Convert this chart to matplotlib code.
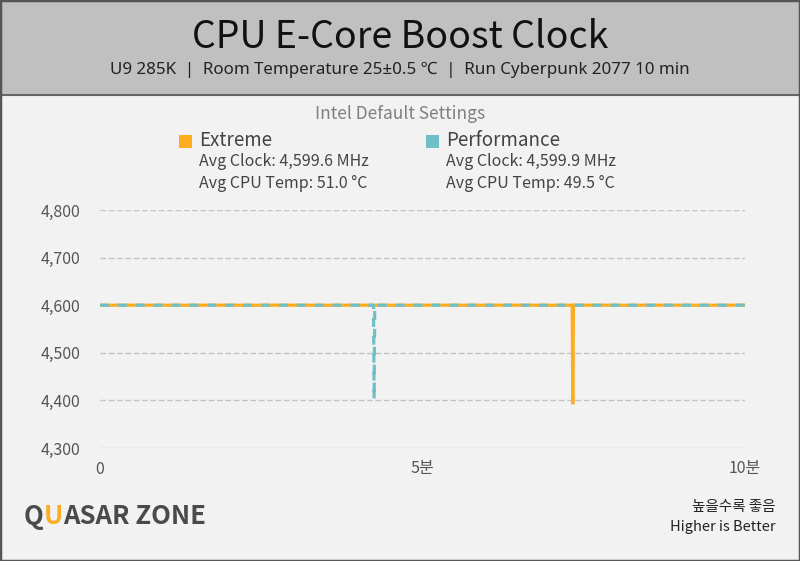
import matplotlib.pyplot as plt
from matplotlib.patches import Rectangle
from matplotlib.lines import Line2D
from matplotlib.offsetbox import TextArea, HPacker, AnchoredOffsetbox

plt.rcParams['font.family'] = ['Noto Sans CJK KR', 'DejaVu Sans']

# minutes / MHz
ext_t = [0, 7.32, 7.33, 7.34, 10]
ext_mhz = [4600, 4600, 4392, 4600, 4600]
perf_t = [0, 4.24, 4.25, 4.26, 10]
perf_mhz = [4600, 4600, 4402, 4600, 4600]

yticks = [4300, 4400, 4500, 4600, 4700, 4800]
xticks = [0, 5, 10]
xlabels = ['0', '5분', '10분']

c_ext = '#ffad1f'
c_perf = '#6fc0c6'

fig = plt.figure(figsize=(8, 5.61), dpi=100)
fig.set_facecolor('#f2f2f2')

# header band + borders
hb = 95 / 561
fig.patches.append(Rectangle((0, 1 - hb), 1, hb, transform=fig.transFigure,
                             facecolor='#c0c0c0', edgecolor='none', zorder=0))
fig.lines.append(Line2D([0, 1], [1 - hb, 1 - hb], transform=fig.transFigure,
                        color='#666666', lw=1.5))
fig.patches.append(Rectangle((0, 0), 1, 1, transform=fig.transFigure,
                             facecolor='none', edgecolor='#555555', lw=2.5, zorder=5))

fig.text(0.5, 1 - 37 / 561, 'CPU E-Core Boost Clock', ha='center', va='center',
         fontsize=27, color='#111111')
fig.text(0.5, 1 - 70 / 561,
         'U9 285K  |  Room Temperature 25±0.5 ℃  |  Run Cyberpunk 2077 10 min',
         ha='center', va='center', fontsize=12.2, color='#222222',
         family=['Noto Sans', 'Noto Sans CJK KR'])

fig.text(0.5, 1 - 114 / 561, 'Intel Default Settings', ha='center', va='center',
         fontsize=12.5, color='#808080')

# legend block
for sx, tx, name, clk, tmp, col in [(179, 199, 'Extreme', '4,599.6', '51.0', c_ext),
                                    (426, 446, 'Performance', '4,599.9', '49.5', c_perf)]:
    fig.patches.append(Rectangle((sx / 800, 1 - 148 / 561), 13 / 800, 13 / 561,
                                 transform=fig.transFigure, facecolor=col, edgecolor='none'))
    fig.text(tx / 800, 1 - 141 / 561, name, ha='left', va='center', fontsize=13.5, color='#444444')
    fig.text(tx / 800, 1 - 162 / 561, 'Avg Clock: %s MHz' % clk, ha='left', va='center',
             fontsize=11.5, color='#444444')
    fig.text(tx / 800, 1 - 183 / 561, 'Avg CPU Temp: %s °C' % tmp, ha='left', va='center',
             fontsize=11.5, color='#444444')

ax = fig.add_axes([100 / 800, 1 - 448 / 561, 645 / 800, 238 / 561])
ax.set_facecolor('#f2f2f2')
ax.set_xlim(0, 10)
ax.set_ylim(4300, 4800)
ax.set_yticks(yticks)
ax.set_yticklabels(['{:,}'.format(v) for v in yticks])
ax.set_xticks(xticks)
ax.set_xticklabels(xlabels)
for s in ax.spines.values():
    s.set_visible(False)
ax.tick_params(length=0, labelsize=11.5, colors='#555555')
ax.tick_params(axis='y', pad=14)
ax.tick_params(axis='x', pad=9)
ax.grid(axis='y', color='#c4c4c4', linestyle=(0, (4, 2)), lw=1)
ax.set_axisbelow(True)

ax.plot(ext_t, ext_mhz, color=c_ext, lw=2.3, solid_joinstyle='miter', zorder=3)
ax.plot(perf_t, perf_mhz, color=c_perf, lw=2.3, dashes=(2.8, 2.8), zorder=4)

# logo
parts = [TextArea('Q', textprops=dict(color='#4a4a4a', fontsize=18.5, fontweight='bold')),
         TextArea('U', textprops=dict(color=c_ext, fontsize=18.5, fontweight='bold')),
         TextArea('ASAR ZONE', textprops=dict(color='#4a4a4a', fontsize=18.5, fontweight='bold'))]
logo = HPacker(children=parts, pad=0, sep=0)
ab = AnchoredOffsetbox(loc='center left', child=logo, frameon=False,
                       bbox_to_anchor=(24 / 800, 1 - 516 / 561),
                       bbox_transform=fig.transFigure, borderpad=0, pad=0)
fig.add_artist(ab)

fig.text(776 / 800, 1 - 507 / 561, '높을수록 좋음', ha='right', va='center',
         fontsize=10.5, color='#222222')
fig.text(776 / 800, 1 - 527 / 561, 'Higher is Better', ha='right', va='center',
         fontsize=10.5, color='#222222')

fig.savefig('out.png', dpi=100, facecolor=fig.get_facecolor())
